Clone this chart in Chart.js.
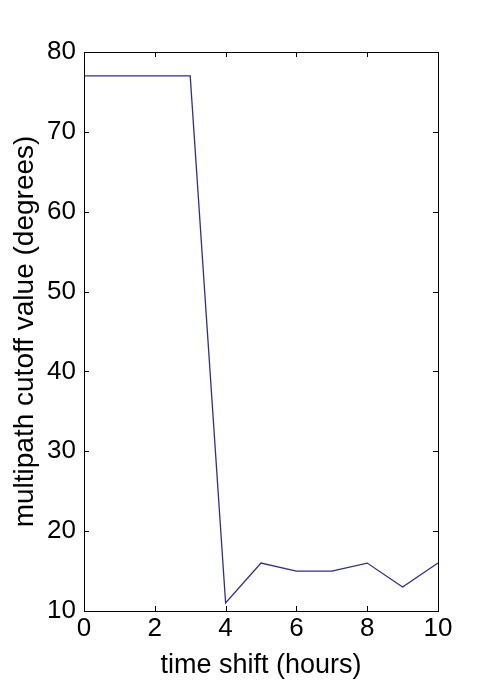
<!DOCTYPE html>
<html>
<head>
<meta charset="utf-8">
<script src="https://cdn.jsdelivr.net/npm/chart.js@4/dist/chart.umd.min.js"></script>
<style>
  html, body { margin: 0; padding: 0; background: #fff; }
  #wrap { width: 480px; height: 685px; }
</style>
</head>
<body>
<div id="wrap"><canvas id="cutoffChart"></canvas></div>
<script>
// time shift (hours) and multipath cutoff (degrees)
const hours = [0, 1, 2, 3, 4, 5, 6, 7, 8, 9, 10];
const cutoff = [77, 77, 77, 77, 11, 16, 15, 15, 16, 13, 16];
const xTicks = [0, 2, 4, 6, 8, 10];
const yTicks = [10, 20, 30, 40, 50, 60, 70, 80];

const FONT = "'Liberation Sans', Arial, sans-serif";

// matlab style box with inward ticks on all four sides
const boxTicks = {
    id: 'boxTicks',
    afterDraw(chart) {
        const ctx = chart.ctx;
        const a = chart.chartArea;
        const xs = chart.scales.x, ys = chart.scales.y;
        const len = 5;
        ctx.save();
        ctx.strokeStyle = '#000';
        ctx.lineWidth = 1;
        ctx.beginPath();
        xTicks.forEach(v => {
            const px = Math.round(xs.getPixelForValue(v)) + 0.5;
            ctx.moveTo(px, a.bottom); ctx.lineTo(px, a.bottom - len);
            ctx.moveTo(px, a.top); ctx.lineTo(px, a.top + len);
        });
        yTicks.forEach(v => {
            const py = Math.round(ys.getPixelForValue(v)) + 0.5;
            ctx.moveTo(a.left, py); ctx.lineTo(a.left + len, py);
            ctx.moveTo(a.right, py); ctx.lineTo(a.right - len, py);
        });
        ctx.stroke();
        ctx.strokeRect(Math.round(a.left) + 0.5, Math.round(a.top) + 0.5,
            Math.round(a.right - a.left), Math.round(a.bottom - a.top));
        ctx.restore();
    }
};

const data = {
    labels: hours,
    datasets: [{
        label: 'cutoff',
        data: hours.map((h, i) => ({ x: h, y: cutoff[i] })),
        borderColor: '#2c2c9e',
        borderWidth: 1.3,
        pointRadius: 0,
        tension: 0,
        fill: false
    }]
};

const config = {
    type: 'line',
    data,
    options: {
        responsive: true,
        maintainAspectRatio: false,
        animation: false,
        layout: { padding: { left: 0, top: 52, right: 42, bottom: 0 } },
        plugins: { legend: { display: false }, tooltip: { enabled: false } },
        scales: {
            x: {
                type: 'linear',
                min: 0,
                max: 10,
                afterFit: s => { s.height = 74; },
                afterBuildTicks: s => { s.ticks = xTicks.map(v => ({ value: v })); },
                grid: { display: false, drawTicks: false },
                border: { display: false },
                ticks: { color: '#000', padding: 2, font: { family: FONT, size: 26 }, maxRotation: 0 },
                title: {
                    display: true,
                    text: 'time shift (hours)',
                    color: '#000',
                    font: { family: FONT, size: 27 },
                    padding: { top: 0, bottom: 3 }
                }
            },
            y: {
                type: 'linear',
                min: 10,
                max: 80,
                afterFit: s => { s.width = 84; },
                afterBuildTicks: s => { s.ticks = yTicks.map(v => ({ value: v })); },
                grid: { display: false, drawTicks: false },
                border: { display: false },
                ticks: { color: '#000', padding: 8, font: { family: FONT, size: 26 } },
                title: {
                    display: true,
                    text: 'multipath cutoff value (degrees)',
                    color: '#000',
                    font: { family: FONT, size: 28 },
                    padding: { top: 8, bottom: 0 }
                }
            }
        }
    },
    plugins: [boxTicks]
};

const cutoffChart = new Chart(document.getElementById('cutoffChart').getContext('2d'), config);
</script>
</body>
</html>
